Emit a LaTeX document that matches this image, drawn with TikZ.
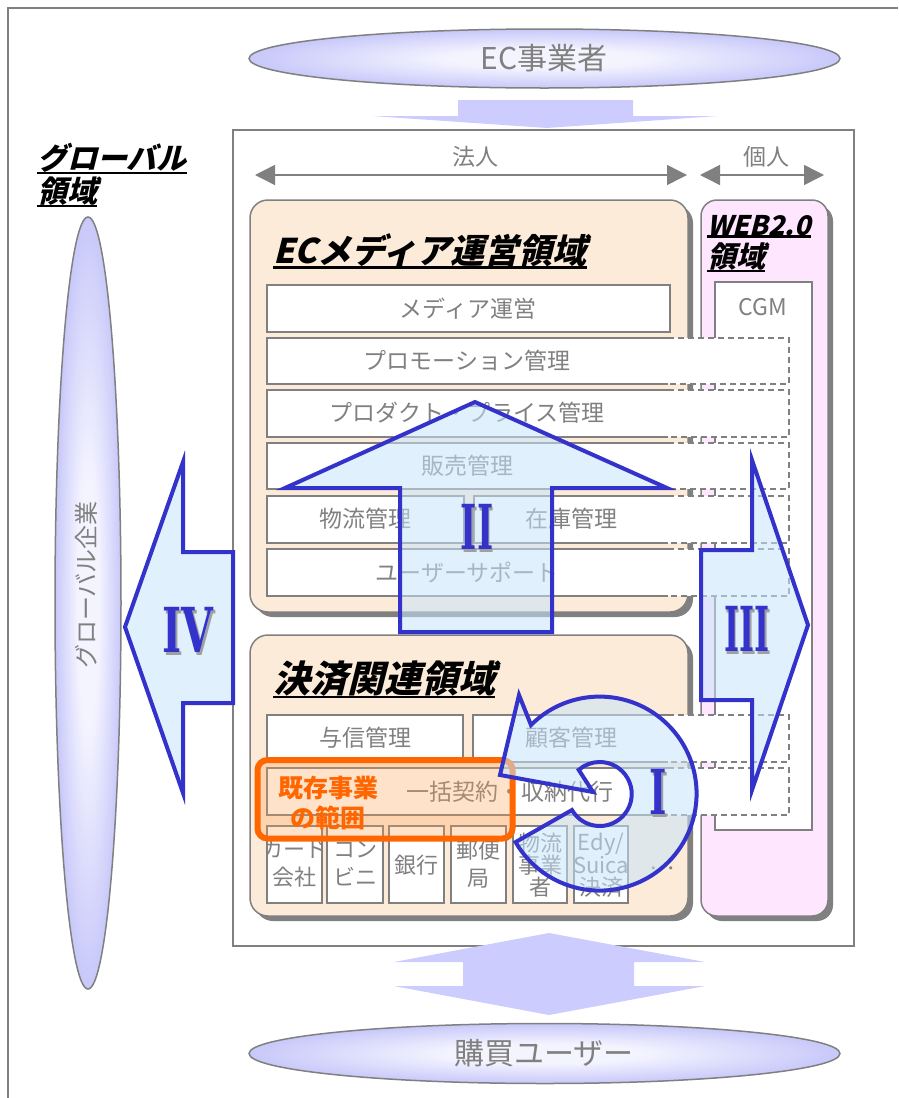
\documentclass[tikz,border=0pt]{standalone}
\usepackage{fontspec}
\usepackage{pdfrender}
\setmainfont{Noto Sans CJK JP}
\newfontfamily\ttlfont{Noto Sans CJK JP}[FakeSlant=0.25]
\newfontfamily\numfont{DejaVu Serif}
\newfontfamily\dotfont{Liberation Serif}
\usetikzlibrary{arrows.meta}
\definecolor{gry}{RGB}{128,128,128}
\definecolor{lav}{RGB}{204,204,255}
\definecolor{ellin}{RGB}{244,244,255}
\definecolor{ellout}{RGB}{200,200,250}
\definecolor{peach}{RGB}{253,235,217}
\definecolor{pinkb}{RGB}{255,230,255}
\definecolor{ablue}{RGB}{51,51,204}
\definecolor{afill}{RGB}{199,228,250}
\definecolor{orng}{RGB}{255,102,0}
\definecolor{orfill}{RGB}{255,160,80}
\definecolor{shd}{RGB}{128,128,128}
\definecolor{numsh}{RGB}{160,160,160}
\pgfdeclareradialshading{ellsh}{\pgfpoint{0bp}{0bp}}{color(0bp)=(ellin); color(8bp)=(ellin); color(25bp)=(ellout); color(50bp)=(ellout)}
\newcommand{\myfs}[2]{\fontsize{#1}{#2}\selectfont}
\newcommand{\romnum}[2]{\scalebox{#1}[1]{\rlap{\kern3pt\raisebox{-3pt}{\textcolor{numsh}{\textpdfrender{TextRenderingMode=FillStroke,LineWidth=2.5pt,StrokeColor=numsh}{#2}}}}\textpdfrender{TextRenderingMode=FillStroke,LineWidth=2.5pt,StrokeColor=ablue}{#2}}}
\newcommand{\xrow}[3]{%
  \fill[white] (#1,#2) rectangle (789,#3);
  \draw[gl] (668,#2) -- (#1,#2) -- (#1,#3) -- (668,#3);
  \draw[dsh] (668,#2) -- (789,#2) -- (789,#3) -- (668,#3);}
\begin{document}
\begin{tikzpicture}[x=1pt,y=-1pt,
  gl/.style={draw=gry, line width=1.5pt},
  dsh/.style={draw=gry, line width=1.5pt, dash pattern=on 6pt off 4pt},
  lbl/.style={text=gry, font=\myfs{23}{27}, inner sep=0pt, align=center},
  sml/.style={text=gry, font=\myfs{22}{28}, inner sep=0pt, align=center},
  smt/.style={text=gry, font=\myfs{22}{22}, inner sep=0pt, align=center},
  big/.style={draw=ablue, line width=4pt, fill=afill, fill opacity=0.55, line join=miter, miter limit=12},
  num/.style={text=ablue, font=\numfont\bfseries\myfs{62}{62}, inner sep=0pt},
  ttl/.style={font=\ttlfont\bfseries\myfs{34}{36}, inner sep=0pt, anchor=base west},
  ul/.style={line width=2.2pt},
  tip/.style={{Triangle[length=20pt,width=20pt]}-{Triangle[length=20pt,width=20pt]}}
]
\useasboundingbox (0,0) rectangle (898,1098);
% outer frame
\coordinate (fA) at (8,1098); \coordinate (fB) at (8,8); \coordinate (fC) at (898,8);
\draw[gl] (fA) -- (fB) -- (fC);
% inner box
\draw[gl, fill=white] (233,130) rectangle (854,946);
% EC ellipse
\path[shade, shading=ellsh, draw=gry, line width=1.5pt] (544.5,58.5) ellipse [x radius=295.5, y radius=29.5];
\node[lbl, font=\myfs{30}{32}] (ec) at (544,58) {EC事業者};
% down arrow
\fill[lav] (458,100) -- (633,100) -- (633,116) -- (718,116) -- (547,128) -- (372,116) -- (458,116) -- cycle;
% 法人 / 個人
\coordinate (hL) at (255,175); \coordinate (hR) at (687,175);
\draw[gl, tip, fill=gry] (hL) -- (hR);
\node[lbl] (hojin) at (475,157) {法人};
\coordinate (kL) at (700,175); \coordinate (kR) at (824,175);
\draw[gl, tip, fill=gry] (kL) -- (kR);
\node[lbl] (kojin) at (766,157) {個人};
% domain boxes
\fill[shd, rounded corners=18pt] (255,205) rectangle (693,617);
\draw[gl, fill=peach, rounded corners=18pt] (250,200) rectangle (688,612);
\fill[shd, rounded corners=18pt] (255,640) rectangle (693,921);
\draw[gl, fill=peach, rounded corners=18pt] (250,635) rectangle (688,916);
\fill[shd, rounded corners=16pt] (706,205) rectangle (833,921);
\draw[gl, fill=pinkb, rounded corners=16pt] (701,200) rectangle (828,916);
\draw[gl, fill=white] (715,282) rectangle (812,830);
\node[lbl] (cgm) at (763,307) {CGM};
% rows EC media
\draw[gl, fill=white] (267,285) rectangle (670,332);
\xrow{267}{338}{384}
\xrow{267}{390}{437}
\xrow{267}{443}{489}
\draw[gl, fill=white] (267,496) rectangle (464,543);
\xrow{474}{496}{543}
\xrow{267}{549}{596}
% rows settlement
\draw[gl, fill=white] (267,715) rectangle (463,762);
\xrow{473}{715}{762}
\xrow{267}{768}{815}
\foreach \a/\b in {267/322, 327/383, 389/444, 451/506, 513/567, 574/628}
  \draw[gl, fill=white] (\a,826) rectangle (\b,903);
% row labels
\node[lbl] (r1) at (468,309) {メディア運営};
\node[lbl] (r2) at (467,361) {プロモーション管理};
\node[lbl] (r3) at (467,413) {プロダクト・プライス管理};
\node[lbl] (r4) at (467,466) {販売管理};
\node[lbl] (r5a) at (365,519) {物流管理};
\node[lbl] (r5b) at (571,519) {在庫管理};
\node[lbl] (r6) at (467,572) {ユーザーサポート};
\node[lbl] (s1a) at (365,738) {与信管理};
\node[lbl] (s1b) at (571,738) {顧客管理};
\node[lbl] (s2) at (510,792) {一括契約・収納代行};
\begin{scope}
\clip (267,826) rectangle (322,903);
\node[sml] (b1) at (294.5,864) {カード\\会社};
\end{scope}
\node[sml] (b2) at (355,864) {コン\\ビニ};
\node[sml] (b3) at (416.5,865) {銀行};
\node[sml] (b4) at (478.5,864) {郵便\\局};
\node[smt] (b5) at (540,865) {物流\\事業\\者};
\node[smt] (b6) at (601,865) {Edy/\\Suica\\決済};
\node[text=gry, font=\dotfont\myfs{26}{28}, inner sep=0pt] (dots) at (662,868) {…};
% existing business range
\draw[draw=orng, line width=6pt, rounded corners=10pt, fill=orfill, fill opacity=0.3] (257.5,760) rectangle (512.5,838.5);
\node[font=\bfseries\myfs{25}{30}, text=orng, align=center, inner sep=0pt] (kizon) at (328,803) {既存事業\\の範囲};
% big arrows
\draw[big] (400,632) -- (400,488) -- (285,488) -- (475,402) -- (667,488) -- (552,488) -- (552,632) -- cycle;
\draw[big] (701,550) -- (752,550) -- (752,460) -- (808,625) -- (752,790) -- (752,700) -- (701,700) -- cycle;
\draw[big] (233,552) -- (183,552) -- (183,462) -- (125,627) -- (183,793) -- (183,703) -- (233,703) -- cycle;
\draw[big] (519,695) -- (531,725) arc[start angle=225, end angle=510, radius=97] -- (572,810) arc[start angle=510, end angle=229, radius=32] -- (593,792) -- (500,775) -- cycle;
% numerals
\node[num] (n2) at (477,528) {\romnum{0.56}{II}};
\node[num] (n3) at (747,630) {\romnum{0.52}{III}};
\node[num] (n4) at (188,631) {\romnum{0.66}{IV}};
\node[num] (n1) at (658,793) {\romnum{0.6}{I}};
% bottom double arrow
\fill[lav] (549,933) -- (705,962) -- (634,962) -- (634,986) -- (705,986) -- (549,1015) -- (394,986) -- (463,986) -- (463,962) -- (394,962) -- cycle;
\path[shade, shading=ellsh, draw=gry, line width=1.5pt] (544.5,1053.5) ellipse [x radius=295.5, y radius=30];
\node[lbl, font=\myfs{30}{32}] (buyer) at (544,1053) {購買ユーザー};
% global ellipse
\path[shade, shading=ellsh, draw=gry, line width=1.5pt] (88,603) ellipse [x radius=33, y radius=386];
\node[lbl, rotate=90, font=\myfs{24}{26}] (glob) at (86,585) {グローバル企業};
% titles
\node[ttl] (t1) at (273,263) {ECメディア運営領域};
\draw[ul] ([yshift=-1pt]t1.south west) -- ([yshift=-1pt]t1.south east);
\node[ttl, font=\ttlfont\bfseries\myfs{37}{38}] (t2) at (273,692) {決済関連領域};
\draw[ul] ([yshift=-1pt]t2.south west) -- ([yshift=-1pt]t2.south east);
\node[ttl, font=\ttlfont\bfseries\myfs{30}{32}] (t3a) at (37,169) {グローバル};
\draw[ul] ([yshift=-1pt]t3a.south west) -- ([yshift=-1pt]t3a.south east);
\node[ttl, font=\ttlfont\bfseries\myfs{30}{32}] (t3b) at (37,202) {領域};
\draw[ul] ([yshift=-1pt]t3b.south west) -- ([yshift=-1pt]t3b.south east);
\node[ttl, font=\ttlfont\bfseries\myfs{27}{30}] (t4a) at (707,235) {WEB2.0};
\draw[ul] ([yshift=-1pt]t4a.south west) -- ([yshift=-1pt]t4a.south east);
\node[ttl, font=\ttlfont\bfseries\myfs{29}{30}] (t4b) at (707,267) {領域};
\draw[ul] ([yshift=-1pt]t4b.south west) -- ([yshift=-1pt]t4b.south east);
\end{tikzpicture}
\end{document}
